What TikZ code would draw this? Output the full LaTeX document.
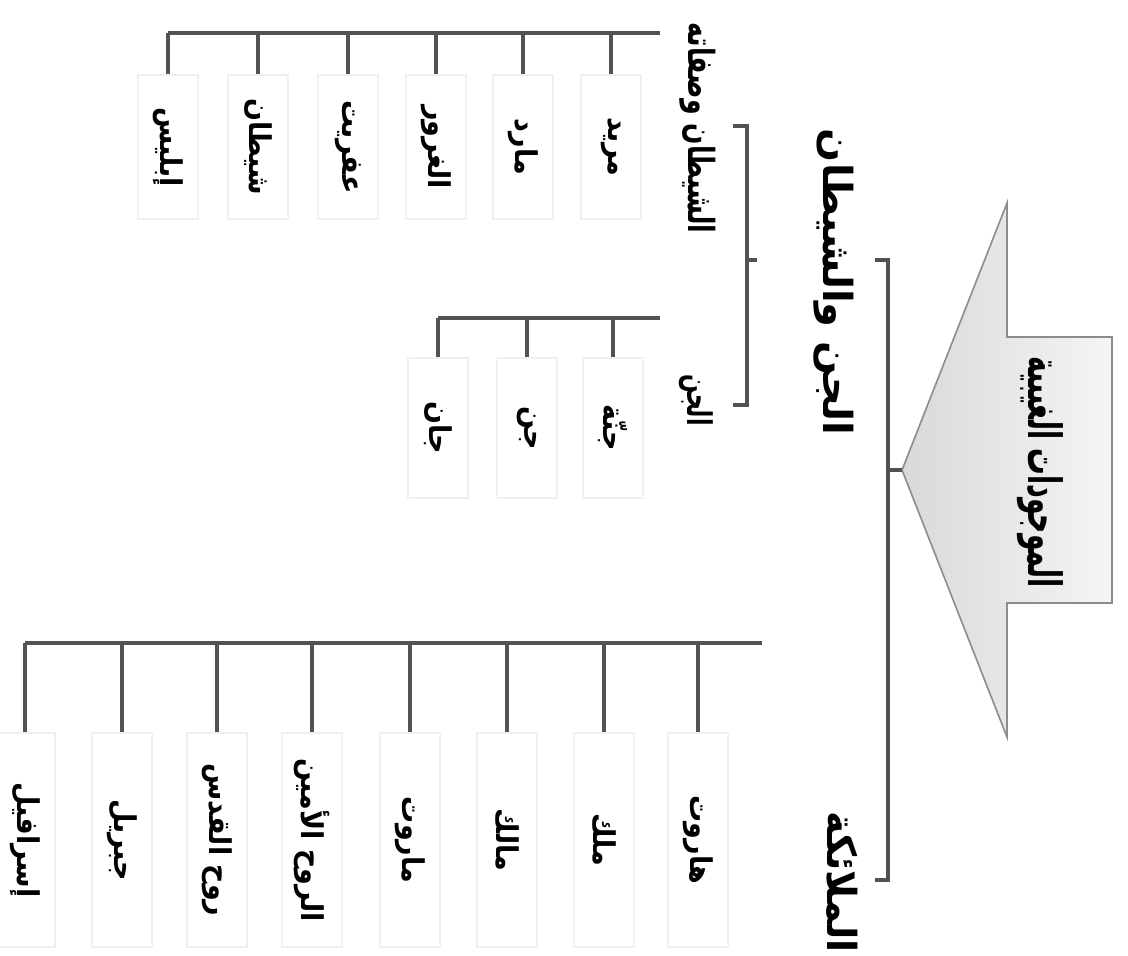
\documentclass[tikz,border=0pt]{standalone}
\usepackage{graphicx}
\usepackage{fontspec}
\newfontfamily\arabicfont[Script=Arabic]{DejaVu Sans}
\TeXXeTstate=1
\usetikzlibrary{positioning}

% all labels run down the page
\tikzset{
  lbl/.style={rotate=-90, inner sep=0pt,
    font=\arabicfont\bfseries\fontsize{#1}{#1}\selectfont},
  lbl/.default=15,
  ghost/.style={draw=black!6, line width=0.6pt},
  leaf/.style={lbl, ghost, minimum height=30pt},
  conn/.style={draw=black!68, line width=2.4pt},
}
% right-to-left text, optionally narrowed
\newcommand{\ar}[2][1]{\scalebox{#1}[1]{\beginR #2\endR}}

\begin{document}
\begin{tikzpicture}[x=0.5pt, y={(0pt,-0.5pt)}]
  \useasboundingbox (0,0) rectangle (1128,955);

  % root arrow
  \draw[black!45, line width=0.8pt, left color=black!15, right color=black!4]
    (902,470) coordinate (tip) -- (1007,203) -- (1007,337) -- (1112,337)
    -- (1112,603) -- (1007,603) -- (1007,737) -- cycle;
  \node[lbl=23] (root) at (1040,472) {\ar[0.58]{الموجودات الغيبية}};

  % first level
  \node[lbl=20] (jinsh) at (834,282) {\ar{الجن والشيطان}};
  \node[lbl=20] (mal) at (842,882) {\ar[0.95]{الملائكة}};
  \coordinate (b1) at (888,260);
  \coordinate (b2) at (888,880);
  \coordinate (h1) at (875,260);
  \coordinate (h2) at (875,880);
  \draw[conn] (tip) -- (tip -| b1);
  \draw[conn] (h1) -- (b1) -- (b2) -- (h2);

  % second level
  \node[lbl=18] (shay) at (698,128) {\ar[0.7]{الشيطان وصفاته}};
  \node[lbl=17] (jinn) at (696,400) {\ar[0.65]{الجن}};
  \coordinate (c0) at (757,260);
  \coordinate (c1) at (747,126);
  \coordinate (c2) at (747,405);
  \draw[conn] (c0) -- (c1 |- c0);
  \draw[conn] (733,126) -- (c1) -- (c2) -- (733,405);

  % devils
  \coordinate (d0) at (660,33);
  \foreach \x/\t [count=\i] in {611/مريد, 523/مارد, 436/الغرور,
      348/عفريت, 258/شيطان, 168/إبليس} {
    \node[leaf, minimum width=72pt] (d\i) at (\x,147) {\ar[0.9]{\t}};
    \draw[conn] (d\i.west) -- (d\i.west |- d0);
  }
  \draw[conn] (d6.west |- d0) -- (d0);

  % jinn
  \coordinate (j0) at (660,318);
  \foreach \x/\t [count=\i] in {613/جنّة, 527/جن, 438/جان} {
    \node[leaf, minimum width=70pt] (j\i) at (\x,428) {\ar[0.9]{\t}};
    \draw[conn] (j\i.west) -- (j\i.west |- j0);
  }
  \draw[conn] (j3.west |- j0) -- (j0);

  % angels
  \coordinate (a0) at (762,643);
  \foreach \x/\t [count=\i] in {698/هاروت, 604/ملك, 507/مالك, 410/ماروت,
      312/الروح الأمين, 217/روح القدس, 122/جبريل, 25/إسرافيل} {
    \node[leaf, minimum width=107pt] (a\i) at (\x,840) {\ar[0.9]{\t}};
    \draw[conn] (a\i.west) -- (a\i.west |- a0);
  }
  \draw[conn] (a8.west |- a0) -- (a0);
\end{tikzpicture}
\end{document}
